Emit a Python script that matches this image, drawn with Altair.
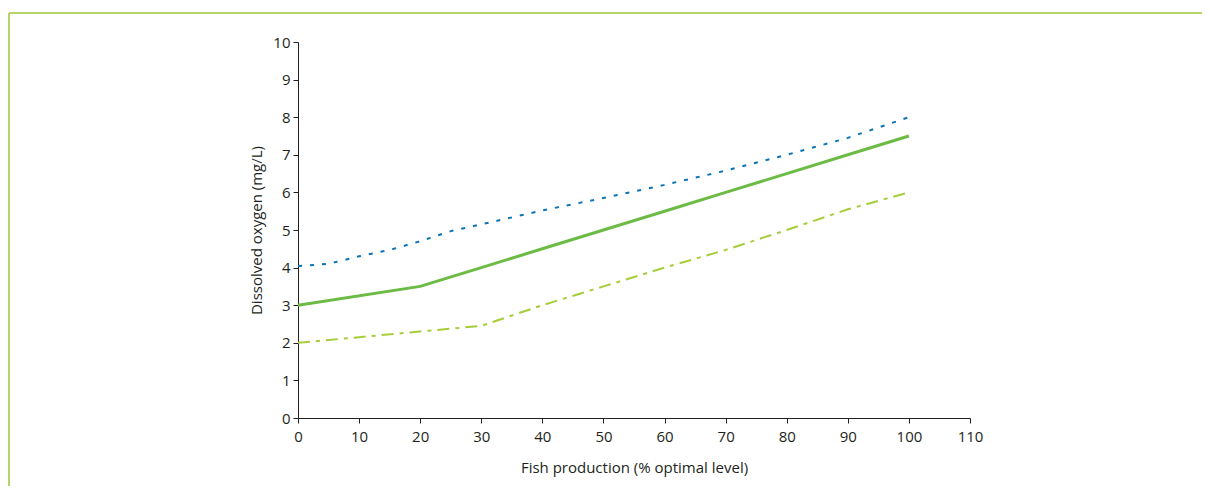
import altair as alt
import pandas as pd

x_vals = [0, 5, 10, 15, 20, 25, 30, 40, 50, 60, 70, 80, 90, 100]
blue_y = [4.04, 4.1, 4.3, 4.47, 4.7, 4.97, 5.15, 5.52, 5.85, 6.2, 6.58, 7.0, 7.45, 8.0]

green_x = [0, 20, 30, 40, 50, 60, 70, 80, 90, 100]
green_y = [3.0, 3.5, 4.0, 4.5, 5.0, 5.5, 6.0, 6.5, 7.0, 7.5]

lime_x = [0, 10, 20, 30, 40, 50, 60, 70, 80, 90, 100]
lime_y = [2.0, 2.15, 2.3, 2.45, 3.0, 3.5, 4.0, 4.47, 5.0, 5.55, 6.0]

x_ticks = [0, 10, 20, 30, 40, 50, 60, 70, 80, 90, 100, 110]
y_ticks = [0, 1, 2, 3, 4, 5, 6, 7, 8, 9, 10]

blue_df = pd.DataFrame({"x": x_vals, "y": blue_y})
green_df = pd.DataFrame({"x": green_x, "y": green_y})
lime_df = pd.DataFrame({"x": lime_x, "y": lime_y})

FONT = "Open Sans"

xscale = alt.Scale(domain=[0, 110], nice=False, zero=False)
yscale = alt.Scale(domain=[0, 10], nice=False)

xaxis = alt.Axis(title="Fish production (% optimal level)", values=x_ticks, grid=False,
                 domainColor="#231f20", tickColor="#231f20", tickSize=5,
                 labelFont=FONT, labelFontSize=15, labelColor="#231f20", labelPadding=6,
                 titleFont=FONT, titleFontSize=15, titleFontWeight="normal", titleColor="#231f20",
                 titlePadding=16, labelFlush=False, labelOverlap=False)
yaxis = alt.Axis(title="Dissolved oxygen (mg/L)", values=y_ticks, grid=False,
                 domainColor="#231f20", tickColor="#231f20", tickSize=5,
                 labelFont=FONT, labelFontSize=15, labelColor="#231f20", labelPadding=3,
                 titleFont=FONT, titleFontSize=15, titleFontWeight="normal", titleColor="#231f20",
                 titlePadding=8, labelFlush=False, labelOverlap=False)

xenc = alt.X("x:Q", scale=xscale, axis=xaxis)
yenc = alt.Y("y:Q", scale=yscale, axis=yaxis)

lime = alt.Chart(lime_df).mark_line(color="#a6cd3a", strokeWidth=2, strokeDash=[12, 6, 4, 6]).encode(
    x=xenc, y=yenc,
)
blue = alt.Chart(blue_df).mark_line(color="#0a74b5", strokeWidth=2, strokeDash=[4, 8]).encode(
    x=xenc, y=yenc,
)
green = alt.Chart(green_df).mark_line(color="#6cbb45", strokeWidth=3).encode(
    x=xenc, y=yenc,
)

frame_top = alt.Chart(pd.DataFrame({"a": [0]})).mark_rule(color="#b5d56c", strokeWidth=2).encode(
    x=alt.value(-289), x2=alt.value(904), y=alt.value(-29)
)
frame_left = alt.Chart(pd.DataFrame({"a": [0]})).mark_rule(color="#b5d56c", strokeWidth=2).encode(
    x=alt.value(-289), y=alt.value(-29), y2=alt.value(450)
)

chart = alt.layer(lime, blue, green, frame_top, frame_left).properties(
    width=672, height=376,
    background="white",
    autosize=alt.AutoSizeParams(type="none"),
    padding={"left": 290, "top": 34, "right": 232, "bottom": 68},
).configure_view(stroke=None)

chart.save("out.html", embed_options={"renderer": "svg", "actions": False})
